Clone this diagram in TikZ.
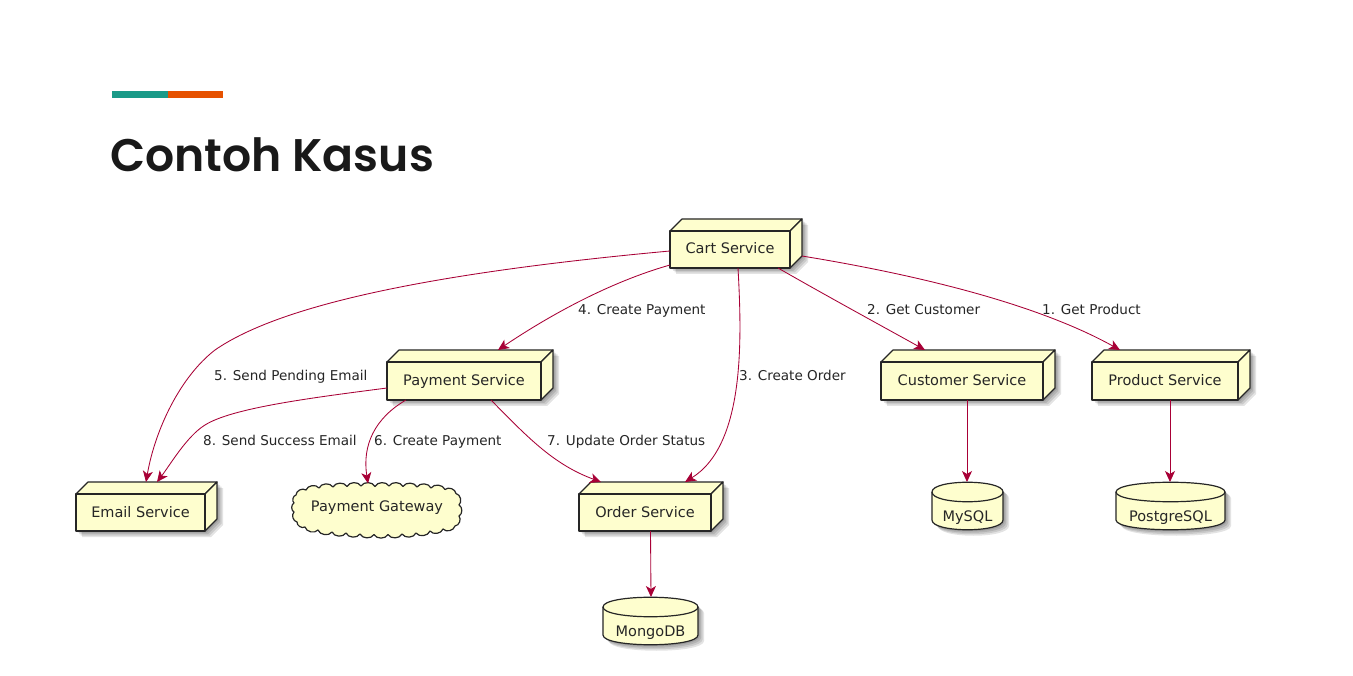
\documentclass[tikz,border=0pt]{standalone}
\usepackage{fontspec}
\setmainfont{DejaVu Sans}
\newfontfamily\titlefont[BoldFont={Poppins SemiBold}]{Poppins}
\usetikzlibrary{arrows.meta,calc}
\definecolor{plumline}{HTML}{A80036}
\definecolor{plumfill}{HTML}{FEFECE}
\definecolor{tealbar}{HTML}{1A9A88}
\definecolor{ornge}{HTML}{E65100}
\tikzset{
  x=1pt,y=-1pt,
  face/.style={draw=black!85,fill=plumfill,line width=1.2pt,line join=round},
  holder/.style={draw=none,inner sep=0pt,outer sep=0pt,text=black!85,font=\fontsize{14.5}{16}\selectfont},
  edge/.style={draw=plumline,line width=0.85pt,-{Stealth[length=11pt,width=10pt,inset=3pt]}},
  elabel/.style={inner sep=0pt,text=black!85,font=\fontsize{13.55}{15}\selectfont,anchor=base west},
  shade1/.style={fill=black,opacity=0.11,draw=none}
}
\newcommand{\boxnode}[6]{% name x1 y1 x2 y2 text; depth 12
  \foreach \s in {1.5,3,4.5,6}{
    \path[shade1,shift={(\s,\s)}] (#2+12,#3) -- (#4,#3) -- (#4,#5-12) -- (#4-12,#5) -- (#2,#5) -- (#2,#3+12) -- cycle;
  }
  \path[face] (#2,#3+12) -- (#2+12,#3) -- (#4,#3) -- (#4-12,#3+12) -- cycle;
  \path[face] (#4-12,#3+12) -- (#4,#3) -- (#4,#5-12) -- (#4-12,#5) -- cycle;
  \path[face] (#2,#3+12) rectangle (#4-12,#5);
  \node[holder,minimum width={(#4-(#2))*1pt},minimum height={(#5-(#3))*1pt}] (#1) at ({(#2+#4)/2},{(#3+#5)/2}) {\raisebox{-10.5pt}[0pt][0pt]{\hspace*{-12pt}#6}};
}
\newcommand{\dbnode}[6]{% name x1 y1 x2 y2 text
  \foreach \s in {1.5,3,4.5,6}{
    \path[shade1,shift={(\s,\s)}] (#2,#3+10) .. controls (#2,#3-3) and (#4,#3-3) .. (#4,#3+10) -- (#4,#5-10) .. controls (#4,#5+3) and (#2,#5+3) .. (#2,#5-10) -- cycle;
  }
  \path[face] (#2,#3+10) .. controls (#2,#3-3) and (#4,#3-3) .. (#4,#3+10) -- (#4,#5-10) .. controls (#4,#5+3) and (#2,#5+3) .. (#2,#5-10) -- cycle;
  \draw[black!85,line width=1.2pt] (#2,#3+10) .. controls (#2,#3+23) and (#4,#3+23) .. (#4,#3+10);
  \node[holder,minimum width={(#4-(#2))*1pt},minimum height={(#5-(#3))*1pt}] (#1) at ({(#2+#4)/2},{(#3+#5)/2}) {\raisebox{-15pt}[0pt][0pt]{#6}};
}
\begin{document}
\begin{tikzpicture}
\useasboundingbox[fill=white] (0,0) rectangle (1353,676);
% accent bar and title
\fill[tealbar] (112,91) rectangle (168,98);
\fill[ornge] (168,91) rectangle (223,98);
\node[inner sep=0pt,anchor=base west,text=black!90] (title) at (110,172) {\titlefont\bfseries\fontsize{45.7}{50}\selectfont Contoh Kasus};
% service boxes
\boxnode{cart}{670}{219}{802}{268}{Cart Service}
\boxnode{pay}{387}{350}{553}{400}{Payment Service}
\boxnode{cust}{881}{350}{1055}{400}{Customer Service}
\boxnode{prod}{1092}{350}{1250}{400}{Product Service}
\boxnode{mail}{76}{482}{217}{531}{Email Service}
\boxnode{order}{579}{482}{723}{531}{Order Service}
% databases
\dbnode{mysql}{932}{482}{1003}{530}{MySQL}
\dbnode{pg}{1116}{482}{1225}{530}{PostgreSQL}
\dbnode{mongo}{603}{597}{698}{645}{MongoDB}
% cloud
\draw[face] (296,495)
  \foreach \a/\b in {306/490,319/488,333/487,347/486.5,361/486,375/486.5,389/486,403/486.5,417/487,431/488,445/489.5,456/493.5,459/505,459/516,455/526,443/529,430/531,416/533,402/534,388/534.5,374/534.5,360/534,346/533,332/532,318/530,305/527,297/522,294/512,294/503,296/495}{
    to[bend left=62] (\a,\b)
  } -- cycle;
\node[holder,minimum width=166pt,minimum height=54pt] (gw) at (377,510.5) {\raisebox{-0.5pt}[0pt][0pt]{Payment Gateway}};
% connectors
\path[edge] ([yshift=-7.5pt]cart.west) .. controls (430,273) and (280,305) .. (215,350) .. controls (180,377) and (155,430) .. ([xshift=-0.5pt]mail.north);
\path[edge] ([yshift=-21.5pt]cart.west) .. controls (610,282) and (550,315) .. ([xshift=28pt]pay.north);
\path[edge] ([xshift=2pt,yshift=-24.5pt]cart.center) .. controls (742,340) and (745,445) .. ([xshift=34pt]order.north);
\path[edge] ([xshift=42pt,yshift=-24.5pt]cart.center) .. controls (825,295) and (880,325) .. ([xshift=-43pt]cust.north);
\path[edge] ([yshift=-12.5pt]cart.east) .. controls (900,272) and (1030,300) .. ([xshift=-51pt]prod.north);
\path[edge] ([yshift=-13pt]pay.west) .. controls (310,398) and (232,408) .. (205,425) .. controls (187,436) and (170,465) .. ([xshift=10.5pt]mail.north);
\path[edge] ([xshift=-64pt,yshift=-25pt]pay.center) .. controls (375,418) and (362,445) .. ([xshift=-9pt]gw.north);
\path[edge] ([xshift=21pt,yshift=-25pt]pay.center) .. controls (530,440) and (555,465) .. ([xshift=-50pt]order.north);
\path[edge] ([xshift=-0.5pt]order.south) -- ([xshift=0.5pt]mongo.north);
\path[edge] ([xshift=-1pt]cust.south) -- ([xshift=-0.5pt]mysql.north);
\path[edge] ([xshift=-1pt]prod.south) -- ([xshift=-0.5pt]pg.north);
% connector labels
\node[elabel] (l1) at (1042,315) {1. Get Product};
\node[elabel] (l2) at (867,315) {2. Get Customer};
\node[elabel] (l3) at (739,381) {3. Create Order};
\node[elabel] (l4) at (578,315) {4. Create Payment};
\node[elabel] (l5) at (214,381) {5. Send Pending Email};
\node[elabel] (l6) at (374,446) {6. Create Payment};
\node[elabel] (l7) at (547,446) {7. Update Order Status};
\node[elabel] (l8) at (203,446) {8. Send Success Email};
\end{tikzpicture}
\end{document}
